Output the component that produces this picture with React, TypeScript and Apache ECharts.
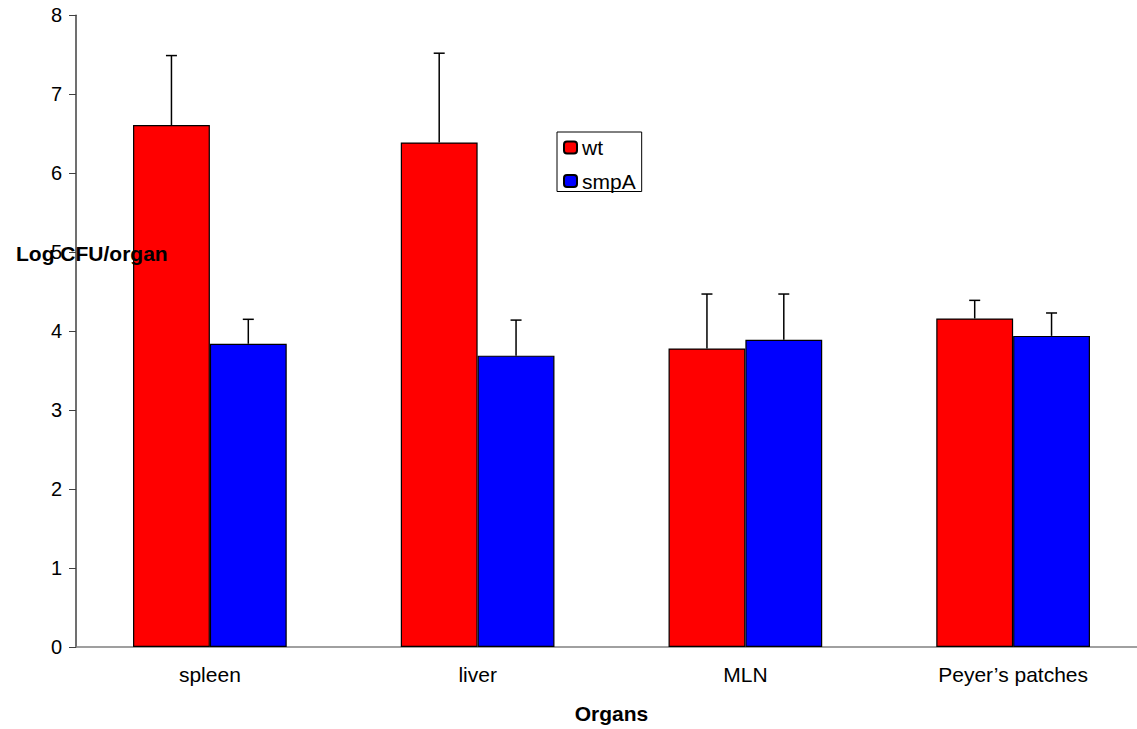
import React, { useEffect, useRef } from "react";
import * as echarts from "echarts";

const categories = ["spleen", "liver", "MLN", "Peyer\u2019s patches"];
const wtValues = [6.61, 6.39, 3.78, 4.16];
const wtErrTop = [7.49, 7.52, 4.47, 4.39];
const smpAValues = [3.84, 3.69, 3.89, 3.94];
const smpAErrTop = [4.15, 4.14, 4.47, 4.23];
const yTicks = { min: 0, max: 8, interval: 1 };

const FONT = 'Arial, "Liberation Sans", sans-serif';
const BAR_FRAC = 0.287;

function errSeries(name: string, values: number[], tops: number[], sign: number) {
  return {
    type: "custom",
    name: name + " error",
    z: 5,
    silent: true,
    data: values.map((v, i) => [i, v, tops[i]]),
    renderItem: (params: any, api: any) => {
      const i = api.value(0);
      const band = api.size([1, 0])[0];
      const off = (sign * band * BAR_FRAC) / 2;
      const p0 = api.coord([i, api.value(1)]);
      const p1 = api.coord([i, api.value(2)]);
      const x = p0[0] + off;
      const style = { stroke: "#000", lineWidth: 1.5, fill: "none" };
      return {
        type: "group",
        children: [
          { type: "line", shape: { x1: x, y1: p0[1], x2: x, y2: p1[1] }, style },
          { type: "line", shape: { x1: x - 5.5, y1: p1[1], x2: x + 5.5, y2: p1[1] }, style },
        ],
      };
    },
  };
}

export default function App() {
  const ref = useRef<HTMLDivElement>(null);
  useEffect(() => {
    if (!ref.current) return;
    const chart = echarts.init(ref.current, null, { renderer: "svg" });
    chart.setOption({
      animation: false,
      backgroundColor: "#fff",
      textStyle: { fontFamily: FONT },
      grid: { left: 76, right: 0, top: 15.3, bottom: 79 },
      legend: {
        data: ["wt", "smpA"],
        orient: "vertical",
        left: 557,
        top: 132,
        padding: [5, 6, 0, 6],
        itemGap: 12.5,
        itemWidth: 13,
        itemHeight: 12,
        borderColor: "#000",
        borderWidth: 1,
        backgroundColor: "#fff",
        textStyle: { fontSize: 21, color: "#000", fontFamily: FONT },
      },
      graphic: [
        {
          type: "text",
          left: 16,
          top: 243,
          z: 100,
          style: {
            text: "Log CFU/organ",
            font: "bold 21px " + FONT,
            fill: "#000",
          },
        },
      ],
      xAxis: {
        type: "category",
        data: categories,
        name: "Organs",
        nameLocation: "middle",
        nameGap: 56,
        nameTextStyle: { fontSize: 21, fontWeight: "bold", color: "#000", fontFamily: FONT },
        axisLine: { lineStyle: { color: "#808080", width: 1.5 } },
        axisTick: { length: 6, lineStyle: { color: "#000" } },
        axisLabel: { fontSize: 21, color: "#000", margin: 17, fontFamily: FONT },
      },
      yAxis: {
        type: "value",
        min: yTicks.min,
        max: yTicks.max,
        interval: yTicks.interval,
        splitLine: { show: false },
        axisLine: { show: true, lineStyle: { color: "#404040", width: 1.5 } },
        axisTick: { show: true, length: 7, lineStyle: { color: "#404040" } },
        axisLabel: { fontSize: 20, color: "#000", margin: 14, fontFamily: FONT },
      },
      series: [
        {
          type: "bar",
          name: "wt",
          data: wtValues,
          barWidth: BAR_FRAC * 100 + "%",
          barGap: "0%",
          itemStyle: { color: "#ff0000", borderColor: "#000", borderWidth: 1.2 },
        },
        {
          type: "bar",
          name: "smpA",
          data: smpAValues,
          barWidth: BAR_FRAC * 100 + "%",
          barGap: "0%",
          itemStyle: { color: "#0000ff", borderColor: "#000", borderWidth: 1.2 },
        },
        errSeries("wt", wtValues, wtErrTop, -1),
        errSeries("smpA", smpAValues, smpAErrTop, 1),
      ],
    });
    return () => chart.dispose();
  }, []);
  return (
    <div
      style={{
        position: "fixed",
        left: 0,
        top: 0,
        width: 1137,
        height: 729,
        overflow: "hidden",
        background: "#fff",
      }}
    >
      <div ref={ref} style={{ width: 1147, height: 729 }} />
    </div>
  );
}
